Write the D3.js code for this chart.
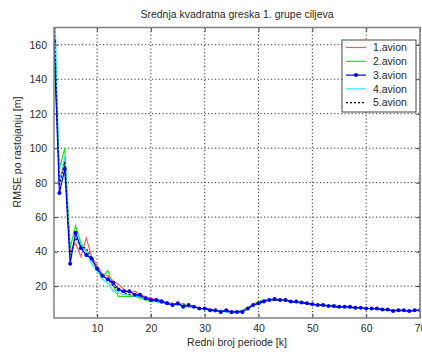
<!DOCTYPE html>
<html>
<head>
<meta charset="utf-8">
<script src="https://cdn.jsdelivr.net/npm/d3@7"></script>
<style>
  html, body { margin: 0; padding: 0; background: #fff; }
  svg { display: block; }
  text { font-family: "Liberation Sans", Arial, sans-serif; fill: #2a2a2a; }
</style>
</head>
<body>
<svg id="chart" width="422" height="354"></svg>
<script>
// Period index k (x axis)
const periods = d3.range(2, 71);

// RMSE per aircraft, one value per period k = 2..70
const avion1 = [165, 82, 90, 40, 45, 37, 48, 37, 32, 27, 26, 23, 21, 18, 16, 17, 15, 14, 13, 12, 12, 10, 10, 9, 10, 8, 8, 7, 7, 6, 5, 6, 5, 4, 5, 5.5, 7, 9, 10.5, 11.5, 12, 12, 12, 11.5, 11, 10.5, 10.5, 10, 9.5, 9, 8.5, 8.5, 8, 8, 8, 7.5, 7.5, 7, 7, 7, 6.5, 6.5, 6, 6, 6, 5.5, 5.5, 6, 6];
const avion2 = [160, 88, 100, 42, 55, 45, 40, 35, 31, 25, 29, 20, 14, 14, 14, 14, 13, 12, 11, 11, 10, 11, 9, 10, 9, 8, 8, 7, 6.5, 6, 6, 5.5, 5.5, 5, 5, 6, 7.5, 9.5, 11, 12, 12.5, 12, 12, 11.5, 11, 10.5, 10, 10, 9.5, 9, 9, 8.5, 8, 8, 8, 7.5, 7.5, 7, 7, 7, 6.5, 6.5, 6, 6, 6, 6, 5.5, 6, 6];
const avion3 = [162, 74, 88, 33, 51, 42, 38, 36, 30, 26, 24, 22, 18, 17, 17, 15, 15, 13, 12, 12, 11, 10, 9, 10, 8, 9, 8, 7, 7, 6, 6, 5, 6, 5, 5, 5, 7, 9, 10, 11, 12, 12.5, 12, 12, 11, 11, 10.5, 10, 9.5, 9, 9, 8.5, 8.5, 8, 8, 8, 7.5, 7.5, 7, 7, 7, 6.5, 6.5, 5.5, 6, 6, 5.5, 6, 6];
const avion4 = [200, 80, 95, 36, 50, 44, 40, 33, 29, 24, 22, 17, 16, 15, 15, 14, 14, 12, 12, 11, 11, 10, 9.5, 9, 9, 8, 8, 7, 7, 6, 6, 5.5, 5, 5, 5, 5.5, 7, 9, 10.5, 11.5, 12, 12, 12, 11.5, 11, 10.5, 10, 10, 9.5, 9, 9, 8.5, 8.5, 8, 8, 7.5, 7.5, 7, 7, 7, 6.5, 6.5, 6, 6, 5.5, 6, 5.5, 6, 6];
const avion5 = [175, 78, 92, 38, 48, 43, 42, 36, 30, 26, 24, 20, 18, 16, 15, 15, 14, 13, 12, 11.5, 11, 10, 10, 9.5, 9, 8.5, 8, 7.5, 7, 6.5, 6, 5.5, 5.5, 5, 5, 5.5, 7, 9, 10.5, 11.5, 12, 12, 12, 11.5, 11, 10.5, 10.5, 10, 9.5, 9, 9, 8.5, 8, 8, 8, 7.5, 7.5, 7, 7, 7, 6.5, 6.5, 6, 6, 6, 5.5, 5.5, 6, 6];

const xTicks = [10, 20, 30, 40, 50, 60, 70];
const yTicks = [20, 40, 60, 80, 100, 120, 140, 160];
const seriesNames = ["1.avion", "2.avion", "3.avion", "4.avion", "5.avion"];

const series = [
  { name: seriesNames[0], values: avion1, color: "#ff5a5a", dash: "none", marker: false },
  { name: seriesNames[1], values: avion2, color: "#22e022", dash: "none", marker: false },
  { name: seriesNames[2], values: avion3, color: "#0000ff", dash: "none", marker: true },
  { name: seriesNames[3], values: avion4, color: "#22e8ff", dash: "none", marker: false },
  { name: seriesNames[4], values: avion5, color: "#000000", dash: "2,2", marker: false }
];

const svg = d3.select("#chart");
const L = 54, R = 420, T = 27.5, B = 318;

const x = d3.scaleLinear().domain([2, 70]).range([L, R]);
const y = d3.scaleLinear().domain([1.5, 170]).range([B, T]);

// clip region for the data
svg.append("defs").append("clipPath").attr("id", "plotClip")
  .append("rect").attr("x", L).attr("y", T).attr("width", R - L).attr("height", B - T);

// dotted grid
const grid = svg.append("g");
grid.selectAll("line.gx").data(xTicks).join("line")
  .attr("x1", d => x(d)).attr("x2", d => x(d)).attr("y1", T).attr("y2", B)
  .attr("stroke", "#333").attr("stroke-width", 1).attr("stroke-dasharray", "1.2,2.3");
grid.selectAll("line.gy").data(yTicks).join("line")
  .attr("x1", L).attr("x2", R).attr("y1", d => y(d)).attr("y2", d => y(d))
  .attr("stroke", "#333").attr("stroke-width", 1).attr("stroke-dasharray", "1.2,2.3");

// data lines
const line = d3.line().x((d, i) => x(periods[i])).y(d => y(d));
const plot = svg.append("g").attr("clip-path", "url(#plotClip)");
const drawOrder = [0, 1, 3, 4, 2];
drawOrder.forEach(si => {
  const s = series[si];
  plot.append("path").datum(s.values)
    .attr("d", line).attr("fill", "none")
    .attr("stroke", s.color).attr("stroke-width", 1.2)
    .attr("stroke-dasharray", s.dash);
  if (s.marker) {
    plot.selectAll(null).data(s.values).join("circle")
      .attr("cx", (d, i) => x(periods[i])).attr("cy", d => y(d))
      .attr("r", 2).attr("fill", s.color);
  }
});

// axes with inward ticks, MATLAB-like box
const xAxis = d3.axisBottom(x).tickValues(xTicks).tickSizeInner(-4).tickSizeOuter(0).tickPadding(7);
const yAxis = d3.axisLeft(y).tickValues(yTicks).tickSizeInner(-4).tickSizeOuter(0).tickPadding(7);
const gx = svg.append("g").attr("transform", `translate(0,${B})`).call(xAxis);
const gy = svg.append("g").attr("transform", `translate(${L},0)`).call(yAxis);
[gx, gy].forEach(g => {
  g.select(".domain").remove();
  g.selectAll(".tick line").attr("stroke", "#444");
  g.selectAll(".tick text").style("font-size", "10.5px").style("font-family", "'Liberation Sans', Arial, sans-serif").attr("fill", "#2a2a2a");
});
// top/right ticks
svg.append("g").attr("transform", `translate(0,${T})`)
  .call(d3.axisTop(x).tickValues(xTicks).tickSizeInner(-4).tickSizeOuter(0).tickFormat(""))
  .call(g => { g.select(".domain").remove(); g.selectAll(".tick line").attr("stroke", "#444"); });
svg.append("g").attr("transform", `translate(${R},0)`)
  .call(d3.axisRight(y).tickValues(yTicks).tickSizeInner(-4).tickSizeOuter(0).tickFormat(""))
  .call(g => { g.select(".domain").remove(); g.selectAll(".tick line").attr("stroke", "#444"); });

svg.append("rect").attr("x", L).attr("y", T).attr("width", R - L).attr("height", B - T)
  .attr("fill", "none").attr("stroke", "#808080").attr("stroke-width", 1.5);

// title and axis labels
svg.append("text").attr("x", (L + R) / 2).attr("y", 18).attr("text-anchor", "middle")
  .style("font-size", "10.5px").text("Srednja kvadratna greska 1. grupe ciljeva");
svg.append("text").attr("x", (L + R) / 2).attr("y", 346).attr("text-anchor", "middle")
  .style("font-size", "10.5px").text("Redni broj periode [k]");
svg.append("text").attr("transform", "translate(21,152) rotate(-90)").attr("text-anchor", "middle")
  .style("font-size", "10.5px").text("RMSE po rastojanju [m]");

// legend
const lg = svg.append("g").attr("transform", "translate(342,40)");
lg.append("rect").attr("x", 0).attr("y", 0).attr("width", 74).attr("height", 72)
  .attr("fill", "#fff").attr("stroke", "#444").attr("stroke-width", 1);
series.forEach((s, i) => {
  const yy = 7.5 + i * 13.8;
  lg.append("line").attr("x1", 4).attr("x2", 24).attr("y1", yy).attr("y2", yy)
    .attr("stroke", s.color).attr("stroke-width", 1.2).attr("stroke-dasharray", s.dash);
  if (s.marker) lg.append("circle").attr("cx", 14).attr("cy", yy).attr("r", 2).attr("fill", s.color);
  lg.append("text").attr("x", 31).attr("y", yy + 3.7).style("font-size", "10.5px").text(s.name);
});
</script>
</body>
</html>
